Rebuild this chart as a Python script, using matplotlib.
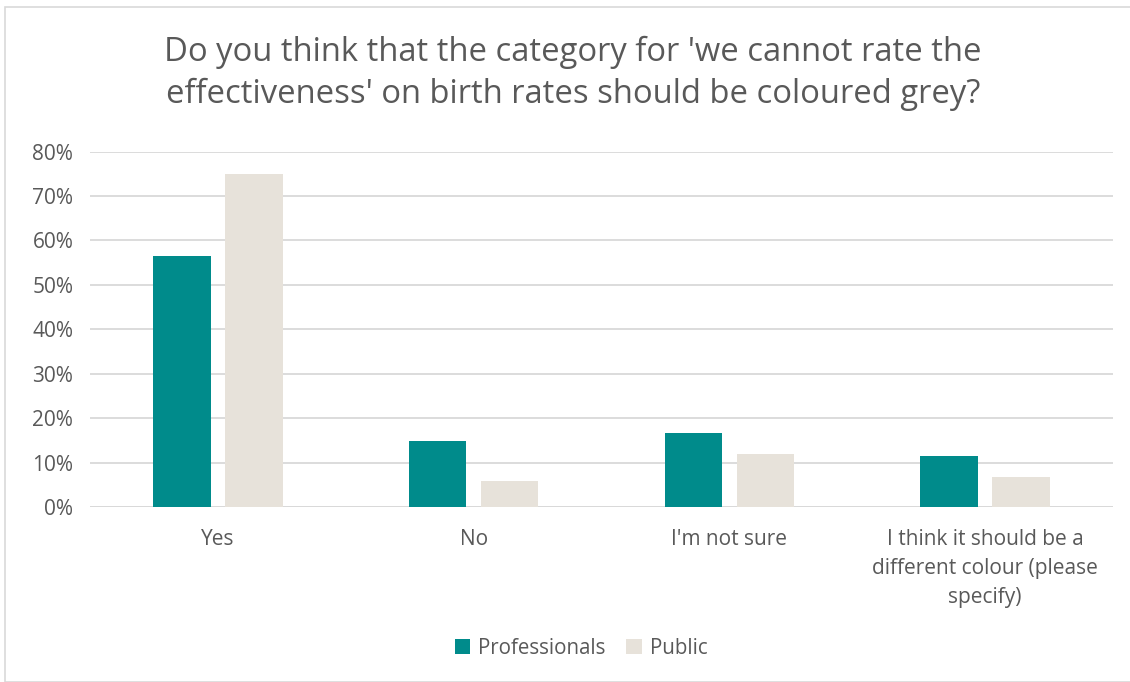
import matplotlib
matplotlib.use("Agg")
import matplotlib.pyplot as plt
import numpy as np
from matplotlib.patches import Rectangle

# values
categories = ["Yes", "No", "I'm not sure",
              "I think it should be a\ndifferent colour (please\nspecify)"]
professionals = [0.565, 0.148, 0.166, 0.115]
public = [0.750, 0.059, 0.119, 0.068]
yticks = [0, 0.1, 0.2, 0.3, 0.4, 0.5, 0.6, 0.7, 0.8]

teal = "#008B8B"
beige = "#E7E2DA"
text_color = "#595959"
grid_color = "#D9D9D9"

plt.rcParams['font.family'] = ['Open Sans', 'DejaVu Sans']

fig = plt.figure(figsize=(11.3, 6.82), dpi=100)
ax = fig.add_axes([90 / 1130, 1 - 507 / 682, (1113 - 90) / 1130, (507 - 151.5) / 682])

x = np.arange(len(categories))
w = 0.225
off = 0.141
ax.bar(x - off, professionals, w, color=teal, label="Professionals", zorder=3)
ax.bar(x + off, public, w, color=beige, label="Public", zorder=3)

ax.set_xlim(-0.5, len(categories) - 0.5)
ax.set_ylim(0, 0.8)
ax.set_yticks(yticks)
ax.set_yticklabels([f"{int(round(t * 100))}%" for t in yticks])
ax.yaxis.grid(True, color=grid_color, linewidth=1.3, zorder=0)
ax.set_xticks(x)
ax.set_xticklabels(categories, linespacing=1.5)
ax.tick_params(axis='both', length=0, colors=text_color, labelsize=15)
ax.tick_params(axis='x', pad=16)
ax.tick_params(axis='y', pad=12)
for s in ax.spines.values():
    s.set_visible(False)
ax.axhline(0, color=grid_color, linewidth=1.3, zorder=1)

fig.text(0.507, 1 - 73 / 682, "Do you think that the category for 'we cannot rate the\n"
         "effectiveness' on birth rates should be coloured grey?",
         ha='center', va='center', fontsize=23.6, color=text_color, linespacing=1.35)

leg = fig.legend(loc='center', bbox_to_anchor=(581 / 1130, 1 - 648 / 682), ncol=2,
                 frameon=False, fontsize=14.8, handlelength=0.75, handleheight=0.75,
                 handletextpad=0.4, columnspacing=1.0)
for t in leg.get_texts():
    t.set_color(text_color)

fig.patches.append(Rectangle((5 / 1130, 0), 1.2, 1 - 7 / 682, transform=fig.transFigure,
                             fill=False, edgecolor=grid_color, linewidth=1.2))

fig.savefig("out.png", dpi=100)
